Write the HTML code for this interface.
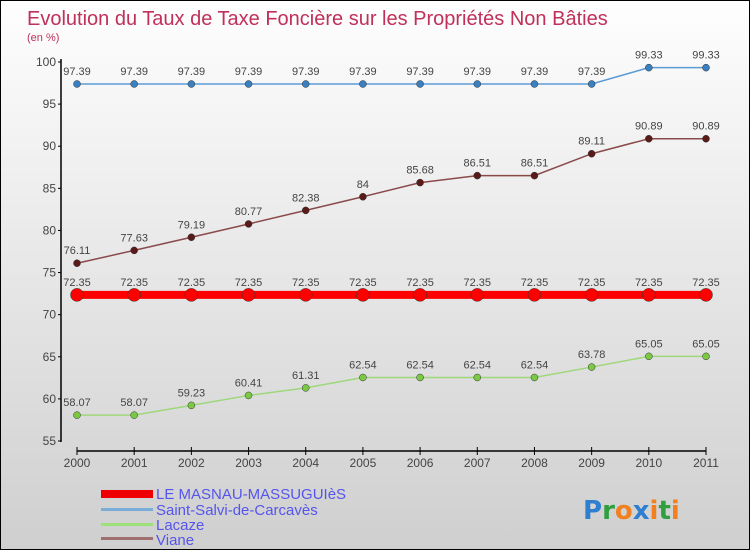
<!DOCTYPE html>
<html><head><meta charset="utf-8"><style>
body{margin:0}
#wrap{position:relative;width:750px;height:550px;box-sizing:border-box;border:1px solid #000;background:linear-gradient(#fefefe,#f0f0f0 30%,#cfcfcf);font-family:"Liberation Sans",sans-serif;overflow:hidden}
</style></head><body>
<div id="wrap">
<svg id="chart" width="750" height="550" style="position:absolute;left:0;top:0">
<text x="26" y="24" font-size="20" fill="#c0305a">Evolution du Taux de Taxe Foncière sur les Propriétés Non Bâties</text>
<text x="26" y="40" font-size="11" fill="#c0305a">(en %)</text>
<g id="axes"></g><g id="series"></g>
<g>
<rect x="100" y="489" width="52" height="8" fill="#e00"/>
<text x="155" y="498" font-size="15" fill="#5555ee">LE MASNAU-MASSUGUIèS</text>
<rect x="100" y="507" width="52" height="3" fill="#7aaed8"/>
<text x="155" y="514" font-size="15" fill="#5555ee">Saint-Salvi-de-Carcavès</text>
<rect x="100" y="522" width="52" height="3" fill="#9ee07a"/>
<text x="155" y="529" font-size="15" fill="#5555ee">Lacaze</text>
<rect x="100" y="536" width="52" height="3" fill="#a07070"/>
<text x="155" y="544" font-size="15" fill="#5555ee">Viane</text>
</g>
<g font-size="26" font-weight="bold" font-family="DejaVu Sans,sans-serif">
<text x="582" y="518"><tspan fill="#2f7fd0">P</tspan><tspan fill="#2f9f3f">r</tspan><tspan fill="#f08020">o</tspan><tspan fill="#2f7fd0">x</tspan><tspan fill="#f08020">i</tspan><tspan fill="#2f9f3f">t</tspan><tspan fill="#f08020">i</tspan></text>
</g>
</svg>
</div>
<script>
const years=[2000,2001,2002,2003,2004,2005,2006,2007,2008,2009,2010,2011];
const yTicks=[55,60,65,70,75,80,85,90,95,100];
const masnau=[72.35,72.35,72.35,72.35,72.35,72.35,72.35,72.35,72.35,72.35,72.35,72.35];
const salvi=[97.39,97.39,97.39,97.39,97.39,97.39,97.39,97.39,97.39,97.39,99.33,99.33];
const lacaze=[58.07,58.07,59.23,60.41,61.31,62.54,62.54,62.54,62.54,63.78,65.05,65.05];
const viane=[76.11,77.63,79.19,80.77,82.38,84,85.68,86.51,86.51,89.11,90.89,90.89];
const NS="http://www.w3.org/2000/svg";
const x=i=>76+i*(705-76)/(years.length-1);
const y=v=>61+(100-v)*(440-61)/45;
function mk(tag,attrs,parent){const e=document.createElementNS(NS,tag);for(const k in attrs)e.setAttribute(k,attrs[k]);parent.appendChild(e);return e;}
const ax=document.getElementById('axes');
let l=mk('line',{x1:60,y1:58,x2:60,y2:441,stroke:'#000','stroke-width':1.5},ax);


yTicks.forEach(t=>{
 mk('line',{x1:57,y1:y(t),x2:60,y2:y(t),stroke:'#000'},ax);
 const tx=mk('text',{x:55,y:y(t)+4,'font-size':12,'text-anchor':'end',fill:'#444'},ax);tx.textContent=t;
 
 
});
l=mk('line',{x1:76,y1:450,x2:705,y2:450,stroke:'#000','stroke-width':1.5},ax);


years.forEach((yr,i)=>{
 mk('line',{x1:x(i),y1:446,x2:x(i),y2:454,stroke:'#000'},ax);
 const tx=mk('text',{x:x(i),y:466,'font-size':12,'text-anchor':'middle',fill:'#444'},ax);tx.textContent=yr;
 
 
});
const sg=document.getElementById('series');
function draw(vals,name,color,dot,w,r){
 const g=mk('g',{},sg);
 
 
 const p=mk('polyline',{points:vals.map((v,i)=>x(i)+','+y(v)).join(' '),fill:'none',stroke:color,'stroke-width':w},g);
 
 
 vals.forEach((v,i)=>{
  const c=mk('circle',{cx:x(i),cy:y(v),r:r,fill:dot,stroke:'#333','stroke-width':0.5},g);
  
  
  const t=mk('text',{x:x(i),y:y(v)-9,'font-size':11,'text-anchor':'middle',fill:'#444'},g);t.textContent=v;
  
  
 });
}
draw(salvi,'saint-salvi','#5b9bd5','#3a7fc0',1.5,3.5);
draw(viane,'viane','#8a4a4a','#5a1a1a',1.5,3.5);
draw(lacaze,'lacaze','#9ed87a','#7ac843',1.5,3.5);
draw(masnau,'le-masnau','#f00','#f00',8,6.5);
</script>
</body></html>
